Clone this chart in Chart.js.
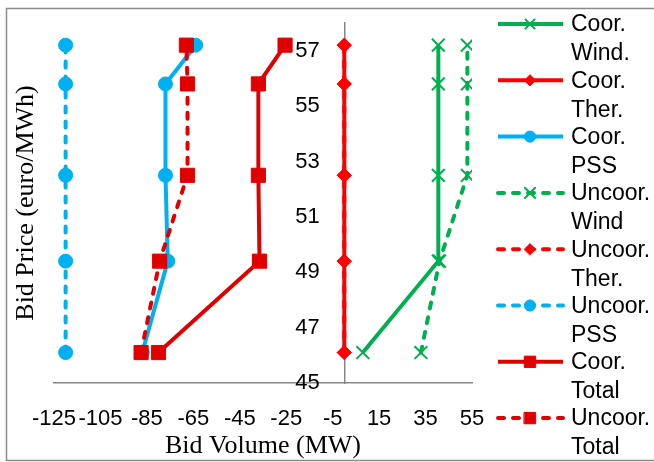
<!DOCTYPE html>
<html>
<head>
<meta charset="utf-8">
<script src="https://cdn.jsdelivr.net/npm/chart.js@4.4.1/dist/chart.umd.min.js"></script>
<style>
  html, body { margin: 0; padding: 0; background: #fff; }
  #wrap { position: relative; width: 654px; height: 462px; }
</style>
</head>
<body>
<div id="wrap"><canvas id="chart"></canvas></div>
<script>
// bid price steps (euro/MWh), shared by every curve
const prices = [46.1, 49.4, 52.5, 55.8, 57.2];

const seriesNames = ['Coor. Wind.', 'Coor. Ther.', 'Coor. PSS', 'Uncoor. Wind',
                     'Uncoor. Ther.', 'Uncoor. PSS', 'Coor. Total', 'Uncoor. Total'];

// bid volumes (MW) at each price step
const coorWind    = [8, 40.5, 40.5, 40.5, 40.5];
const coorTher    = [0, 0, 0, 0, 0];
const coorPSS     = [-87, -76, -77, -77, -64];
const uncoorWind  = [33, 41, 53, 53, 53];
const uncoorTher  = [0, 0, 0, 0, 0];
const uncoorPSS   = [-120, -120, -120, -120, -120];
const coorTotal   = [-80, -36.5, -37, -37, -25.5];
const uncoorTotal = [-87.5, -79.5, -67.5, -67.5, -68];

const xTicks = [-125, -105, -85, -65, -45, -25, -5, 15, 35, 55];
const yTicks = [45, 47, 49, 51, 53, 55, 57];

const GREEN = '#00B050';
const RED = '#FF0000';
const BLUE = '#00B0F0';
const DARK_RED = '#E00000';

const tickFont = { family: '"Liberation Sans", Arial, sans-serif', size: 22 };
const titleFont = { family: '"Liberation Serif", "Times New Roman", serif', size: 26 };

function series(label, values, color, marker, radius, dashed) {
  return {
    label: label,
    data: values.map((v, i) => ({ x: v, y: prices[i] })),
    borderColor: color,
    backgroundColor: color,
    borderWidth: 4,
    borderDash: dashed ? [6, 9] : [],
    borderCapStyle: dashed ? 'round' : 'butt',
    pointStyle: marker,
    pointRadius: radius,
    pointHoverRadius: radius,
    pointBackgroundColor: color,
    pointBorderColor: color,
    pointBorderWidth: marker === 'crossRot' ? 2 : 1,
    showLine: true,
    tension: 0,
    fill: false
  };
}

const datasets = [
  series(seriesNames[0], coorWind, GREEN, 'crossRot', 9, false),
  series(seriesNames[1], coorTher, RED, 'rectRot', 7, false),
  series(seriesNames[2], coorPSS, BLUE, 'circle', 7, false),
  series(seriesNames[3], uncoorWind, GREEN, 'crossRot', 9, true),
  series(seriesNames[4], uncoorTher, RED, 'rectRot', 7, true),
  series(seriesNames[5], uncoorPSS, BLUE, 'circle', 7, true),
  series(seriesNames[6], coorTotal, DARK_RED, 'rect', 10, false),
  series(seriesNames[7], uncoorTotal, DARK_RED, 'rect', 10, true)
];
// later series sit on top, like the spreadsheet did it
datasets.forEach((ds, i) => { ds.order = datasets.length - i; });

// white page with the grey frame round it
const frame = {
  id: 'frame',
  beforeDraw(chart) {
    const ctx = chart.ctx;
    ctx.save();
    ctx.fillStyle = '#fff';
    ctx.fillRect(0, 0, chart.width, chart.height);
    ctx.strokeStyle = '#8c8c8c';
    ctx.lineWidth = 1.5;
    ctx.beginPath();
    ctx.moveTo(chart.width, 8.5);
    ctx.lineTo(6.5, 8.5);
    ctx.lineTo(6.5, 460.5);
    ctx.lineTo(chart.width, 460.5);
    ctx.stroke();
    ctx.restore();
  }
};

// legend on the right, each name wrapped over two lines
const sideLegend = {
  id: 'sideLegend',
  afterDraw(chart) {
    const ctx = chart.ctx;
    chart.data.datasets.forEach((ds, i) => {
      const y = 24 + i * 56.3;
      ctx.save();
      ctx.strokeStyle = ds.borderColor;
      ctx.fillStyle = ds.borderColor;
      ctx.lineWidth = ds.borderWidth;
      ctx.lineCap = ds.borderCapStyle;
      ctx.setLineDash(ds.borderDash);
      ctx.beginPath();
      ctx.moveTo(498, y);
      ctx.lineTo(563, y);
      ctx.stroke();
      ctx.setLineDash([]);
      ctx.lineWidth = ds.pointBorderWidth;
      Chart.helpers.drawPoint(ctx, {
        pointStyle: ds.pointStyle,
        radius: ds.pointRadius * 0.8,
        borderWidth: ds.pointBorderWidth,
        rotation: 0
      }, 530, y);
      ctx.fillStyle = '#000';
      ctx.font = '23px "Liberation Sans", Arial, sans-serif';
      ctx.textBaseline = 'middle';
      ds.label.split(' ').forEach((word, k) => ctx.fillText(word, 571, y + 1 + k * 29));
      ctx.restore();
    });
  }
};

new Chart(document.getElementById('chart'), {
  type: 'scatter',
  data: { datasets: datasets },
  plugins: [frame, sideLegend],
  options: {
    responsive: true,
    maintainAspectRatio: false,
    animation: false,
    layout: { padding: { left: 0, right: 182, top: 23, bottom: 0 } },
    plugins: {
      legend: { display: false },
      tooltip: { enabled: false }
    },
    scales: {
      x: {
        type: 'linear',
        position: 'bottom',
        min: -125,
        max: 55,
        afterBuildTicks: s => { s.ticks = xTicks.map(v => ({ value: v })); },
        afterFit: s => { s.height = 79; },
        grid: { display: false, drawTicks: false },
        border: { display: true, color: '#868686', width: 1.5 },
        ticks: { padding: 23, font: tickFont, color: '#000', maxRotation: 0, autoSkip: false },
        title: { display: true, text: 'Bid Volume (MW)', font: titleFont, color: '#000',
                 padding: { top: 0, bottom: 0 } }
      },
      y: {
        type: 'linear',
        position: { x: 0 },
        min: 45,
        max: 58,
        afterBuildTicks: s => { s.ticks = yTicks.map(v => ({ value: v })); },
        grid: { display: false, drawTicks: false },
        border: { display: true, color: '#868686', width: 1.5 },
        // labels of an axis placed at x = 0 get no padding, so trailing spaces keep them off the line
        ticks: { font: tickFont, color: '#000', autoSkip: false, callback: v => v + '    ' }
      },
      yTitle: {
        type: 'linear',
        axis: 'y',
        position: 'left',
        min: 45,
        max: 58,
        afterFit: s => { s.width = 54; },
        grid: { display: false, drawTicks: false },
        border: { display: false },
        ticks: { display: false },
        title: { display: true, text: 'Bid Price (euro/MWh)', font: titleFont, color: '#000',
                 padding: { top: 11, bottom: 0 } }
      }
    }
  }
});
</script>
</body>
</html>
